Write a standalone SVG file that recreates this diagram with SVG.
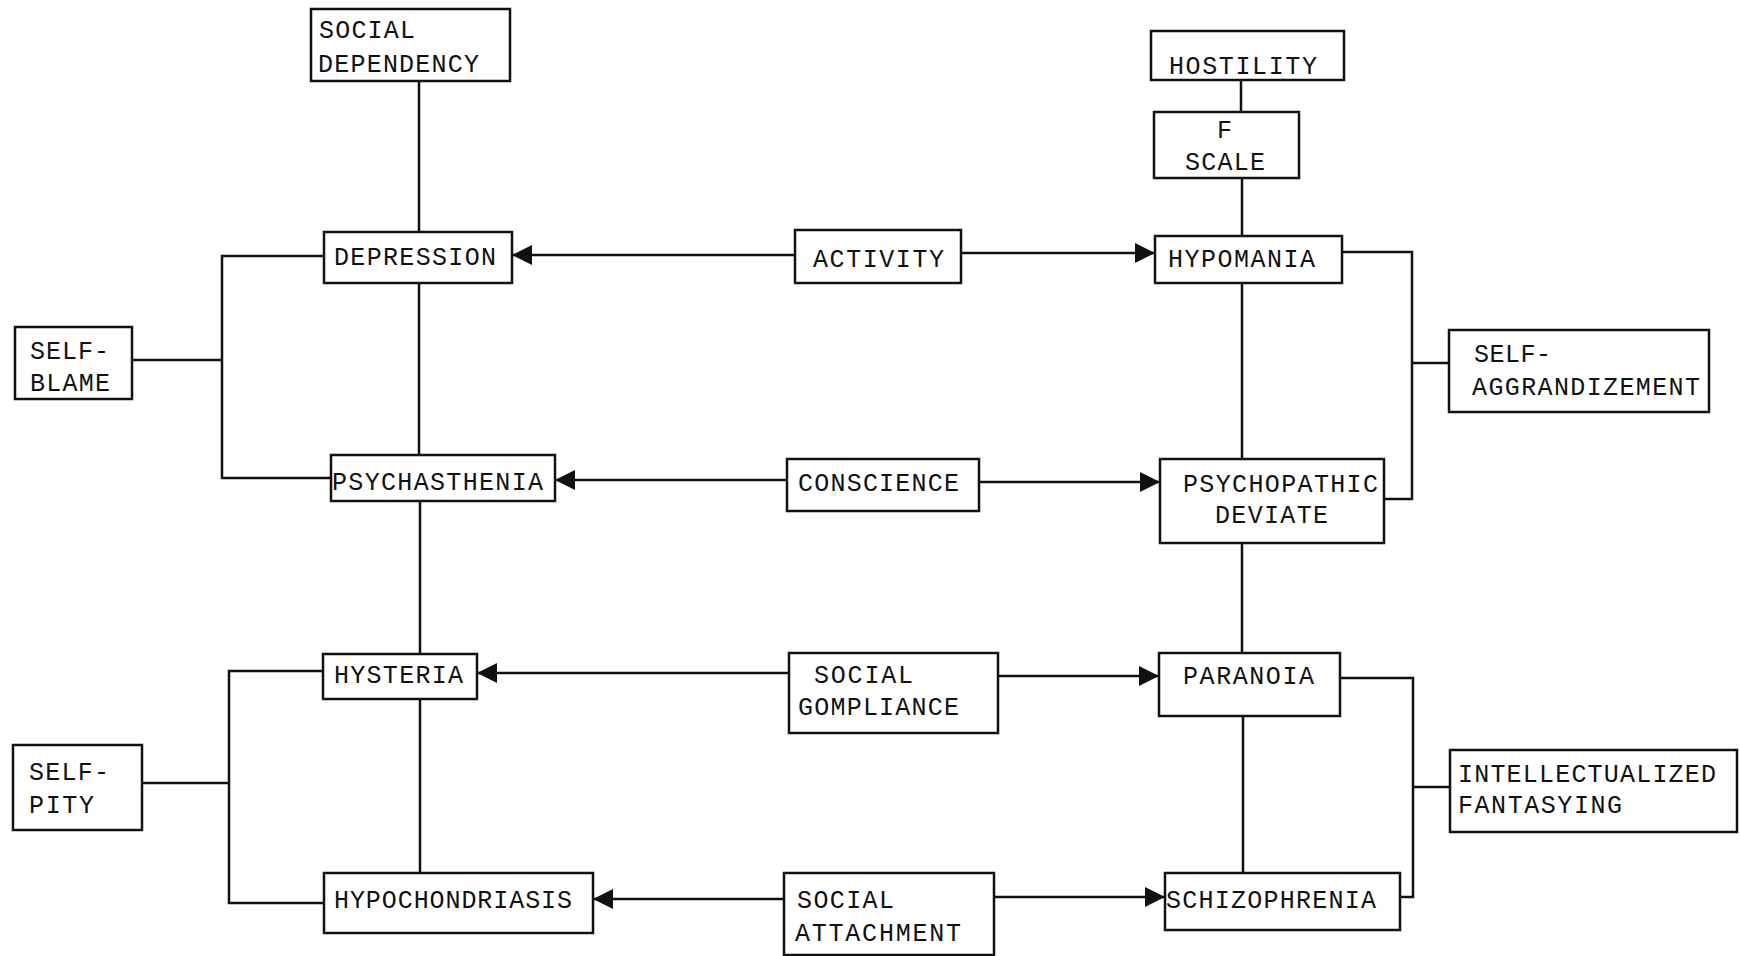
<svg xmlns="http://www.w3.org/2000/svg" width="1740" height="956" viewBox="0 0 1740 956">
<style>
.box{fill:#fff;stroke:#111;stroke-width:2.5}
.t{font-family:"Liberation Mono","DejaVu Sans Mono",monospace;font-size:25px;fill:#111}
.ln{stroke:#111;stroke-width:2.5;fill:none}
.arr{stroke:#111;stroke-width:2.5;fill:none;marker-end:url(#ah)}
</style>
<defs>
<marker id="ah" markerUnits="userSpaceOnUse" markerWidth="20" markerHeight="20" refX="20" refY="10" orient="auto"><path d="M0,0 L20,10 L0,20 z" fill="#111"/></marker>
</defs>
<rect width="1740" height="956" fill="#fff"/>
<g id="connectors">
<path class="ln" d="M419,81 V232 M419,283 V455 M420,501 V654 M420,699 V873"/>
<path class="ln" d="M1241,80 V112 M1242,178 V236 M1242,283 V459 M1242,543 V653 M1243,716 V873"/>
<path class="ln" d="M324,256 H222 V478 H331 M132,360 H222"/>
<path class="ln" d="M323,671 H229 V903 H324 M142,783 H229"/>
<path class="ln" d="M1342,252 H1412 V499 H1384 M1412,363 H1449"/>
<path class="ln" d="M1340,678 H1413 V897 H1400 M1413,787 H1450"/>
<line class="arr" x1="795" y1="255" x2="512" y2="255"/>
<line class="arr" x1="961" y1="253" x2="1155" y2="253"/>
<line class="arr" x1="787" y1="480" x2="555" y2="480"/>
<line class="arr" x1="979" y1="482" x2="1160" y2="482"/>
<line class="arr" x1="789" y1="673" x2="477" y2="673"/>
<line class="arr" x1="998" y1="676" x2="1159" y2="676"/>
<line class="arr" x1="784" y1="899" x2="593" y2="899"/>
<line class="arr" x1="994" y1="897" x2="1165" y2="897"/>
</g>
<g id="social-dependency"><rect class="box" x="311" y="9" width="199" height="72"/><text class="t" x="319" y="38" textLength="96" lengthAdjust="spacing">SOCIAL</text><text class="t" x="318" y="72" textLength="161" lengthAdjust="spacing">DEPENDENCY</text></g>
<g id="depression"><rect class="box" x="324" y="232" width="188" height="51"/><text class="t" x="334" y="265" textLength="162" lengthAdjust="spacing">DEPRESSION</text></g>
<g id="activity"><rect class="box" x="795" y="230" width="166" height="53"/><text class="t" x="813" y="267" textLength="131" lengthAdjust="spacing">ACTIVITY</text></g>
<g id="hostility"><rect class="box" x="1151" y="31" width="193" height="49"/><text class="t" x="1169" y="74" textLength="148" lengthAdjust="spacing">HOSTILITY</text></g>
<g id="f-scale"><rect class="box" x="1154" y="112" width="145" height="66"/><text class="t" x="1217" y="138">F</text><text class="t" x="1185" y="170" textLength="80" lengthAdjust="spacing">SCALE</text></g>
<g id="hypomania"><rect class="box" x="1155" y="236" width="187" height="47"/><text class="t" x="1168" y="267" textLength="147" lengthAdjust="spacing">HYPOMANIA</text></g>
<g id="self-blame"><rect class="box" x="15" y="327" width="117" height="72"/><text class="t" x="30" y="359" textLength="79" lengthAdjust="spacing">SELF-</text><text class="t" x="30" y="391" textLength="80" lengthAdjust="spacing">BLAME</text></g>
<g id="psychasthenia"><rect class="box" x="331" y="455" width="224" height="46"/><text class="t" x="332" y="490" textLength="211" lengthAdjust="spacing">PSYCHASTHENIA</text></g>
<g id="conscience"><rect class="box" x="787" y="459" width="192" height="52"/><text class="t" x="798" y="491" textLength="161" lengthAdjust="spacing">CONSCIENCE</text></g>
<g id="psychopathic-deviate"><rect class="box" x="1160" y="459" width="224" height="84"/><text class="t" x="1183" y="492" textLength="195" lengthAdjust="spacing">PSYCHOPATHIC</text><text class="t" x="1215" y="523" textLength="113" lengthAdjust="spacing">DEVIATE</text></g>
<g id="self-aggrandizement"><rect class="box" x="1449" y="330" width="260" height="82"/><text class="t" x="1474" y="362" textLength="77" lengthAdjust="spacing">SELF-</text><text class="t" x="1472" y="395" textLength="228" lengthAdjust="spacing">AGGRANDIZEMENT</text></g>
<g id="hysteria"><rect class="box" x="323" y="654" width="154" height="45"/><text class="t" x="334" y="683" textLength="129" lengthAdjust="spacing">HYSTERIA</text></g>
<g id="self-pity"><rect class="box" x="13" y="745" width="129" height="85"/><text class="t" x="29" y="780" textLength="80" lengthAdjust="spacing">SELF-</text><text class="t" x="29" y="813" textLength="65" lengthAdjust="spacing">PITY</text></g>
<g id="hypochondriasis"><rect class="box" x="324" y="873" width="269" height="60"/><text class="t" x="334" y="908" textLength="238" lengthAdjust="spacing">HYPOCHONDRIASIS</text></g>
<g id="social-compliance"><rect class="box" x="789" y="653" width="209" height="80"/><text class="t" x="814" y="683" textLength="99" lengthAdjust="spacing">SOCIAL</text><text class="t" x="798" y="715" textLength="161" lengthAdjust="spacing">GOMPLIANCE</text></g>
<g id="social-attachment"><rect class="box" x="784" y="873" width="210" height="82"/><text class="t" x="797" y="908" textLength="97" lengthAdjust="spacing">SOCIAL</text><text class="t" x="795" y="941" textLength="166" lengthAdjust="spacing">ATTACHMENT</text></g>
<g id="paranoia"><rect class="box" x="1159" y="653" width="181" height="63"/><text class="t" x="1183" y="684" textLength="131" lengthAdjust="spacing">PARANOIA</text></g>
<g id="schizophrenia"><rect class="box" x="1165" y="873" width="235" height="57"/><text class="t" x="1166" y="908" textLength="210" lengthAdjust="spacing">SCHIZOPHRENIA</text></g>
<g id="intellectualized-fantasying"><rect class="box" x="1450" y="750" width="287" height="82"/><text class="t" x="1458" y="782" textLength="258" lengthAdjust="spacing">INTELLECTUALIZED</text><text class="t" x="1458" y="813" textLength="164" lengthAdjust="spacing">FANTASYING</text></g>
</svg>
